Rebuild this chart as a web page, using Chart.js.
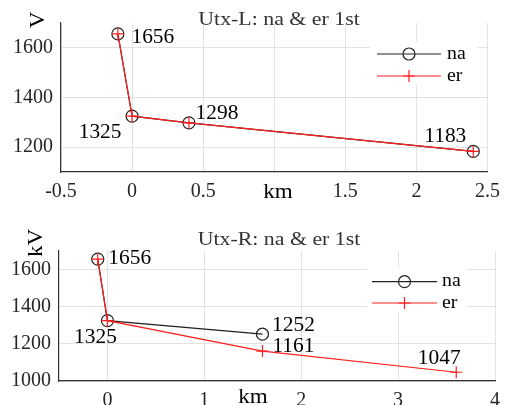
<!DOCTYPE html>
<html>
<head>
<meta charset="utf-8">
<script src="https://cdn.jsdelivr.net/npm/chart.js@4.4.1/dist/chart.umd.min.js"></script>
<style>
  html, body { margin: 0; padding: 0; background: #fff; }
  #wrap { position: relative; width: 508px; height: 405px; overflow: hidden; }
  #wrap canvas { position: absolute; left: 0; }
</style>
</head>
<body>
<div id="wrap">
  <canvas id="chartL" width="508" height="200" style="top:0;width:508px;height:200px"></canvas>
  <canvas id="chartR" width="508" height="205" style="top:200px;width:508px;height:205px"></canvas>
</div>
<script>
//--------------- data ---------------//
// Utx-L (top)
var distL = [-0.1, 0, 0.4, 2.4];
var naL = [1656, 1325, 1298, 1183];
var erL = [1656, 1325, 1298, 1183];
var xTicksL = [-0.5, 0, 0.5, 1, 1.5, 2, 2.5];
var yTicksL = [1200, 1400, 1600];

// Utx-R (bottom)
var distNaR = [-0.1, 0, 1.6];
var naR = [1656, 1325, 1252];
var distErR = [-0.1, 0, 1.6, 3.6];
var erR = [1656, 1325, 1161, 1047];
var xTicksR = [0, 1, 2, 3, 4];
var yTicksR = [1000, 1200, 1400, 1600];

var seriesNames = ['na', 'er'];

//--------------- helpers ---------------//
var serif = '"Liberation Serif", "Times New Roman", serif';
var naColor = '#222222';
var erColor = '#ff1f1f';
var gridColor = '#e2e2e2';
var axisColor = '#333333';

function pts(xs, ys) {
  return xs.map(function (x, i) { return { x: x, y: ys[i] }; });
}

function drawText(ctx, text, x, y, size, opt) {
  opt = opt || {};
  ctx.save();
  ctx.translate(x, y);
  if (opt.rotate) ctx.rotate(opt.rotate);
  ctx.scale(opt.sx || 1.1, 1);
  ctx.font = size + 'px ' + serif;
  ctx.fillStyle = opt.color || '#000';
  ctx.textAlign = opt.align || 'center';
  ctx.textBaseline = opt.baseline || 'middle';
  ctx.fillText(text, 0, 0);
  ctx.restore();
}

function drawCircle(ctx, x, y) {
  ctx.save();
  ctx.strokeStyle = naColor;
  ctx.lineWidth = 1.2;
  ctx.beginPath();
  ctx.arc(x, y, 6, 0, Math.PI * 2);
  ctx.stroke();
  ctx.restore();
}

function drawPlus(ctx, x, y) {
  ctx.save();
  ctx.strokeStyle = erColor;
  ctx.lineWidth = 1.2;
  ctx.beginPath();
  ctx.moveTo(x - 6, y); ctx.lineTo(x + 6, y);
  ctx.moveTo(x, y - 6); ctx.lineTo(x, y + 6);
  ctx.stroke();
  ctx.restore();
}

// titles, axis names, point labels and the legend box
var annotPlugin = {
  id: 'annot',
  afterDraw: function (chart, args, o) {
    var ctx = chart.ctx;
    drawText(ctx, o.title.text, o.title.x, o.title.y, 19, { color: '#333', baseline: 'alphabetic', sx: 1.15 });
    drawText(ctx, o.yName.text, o.yName.x, o.yName.y, 21, { rotate: -Math.PI / 2, sx: 1.1 });
    drawText(ctx, o.xName.text, o.xName.x, o.xName.y, 21, { baseline: 'alphabetic', sx: 1.1 });

    o.labels.forEach(function (l) {
      var p = chart.getDatasetMeta(l.ds).data[l.i];
      var v = chart.data.datasets[l.ds].data[l.i].y;
      drawText(ctx, String(v), p.x + l.dx, p.y + l.dy, 20, { sx: 1.07 });
    });

    var lg = o.legend;
    ctx.save();
    ctx.fillStyle = '#fff';
    ctx.fillRect(lg.x, lg.y, lg.w, lg.h);
    ctx.restore();
    seriesNames.forEach(function (name, k) {
      var ry = lg.rows[k];
      var mid = (lg.line[0] + lg.line[1]) / 2;
      ctx.save();
      ctx.strokeStyle = k === 0 ? naColor : erColor;
      ctx.lineWidth = 1.2;
      ctx.beginPath();
      ctx.moveTo(lg.line[0], ry);
      ctx.lineTo(lg.line[1], ry);
      ctx.stroke();
      ctx.restore();
      if (k === 0) drawCircle(ctx, mid, ry); else drawPlus(ctx, mid, ry);
      drawText(ctx, name, lg.textX, ry, 18, { align: 'left', sx: 1.1 });
    });
  }
};

function makeDatasets(naPts, erPts) {
  return [
    {
      label: seriesNames[0],
      data: naPts,
      borderColor: naColor,
      borderWidth: 1.2,
      pointStyle: 'circle',
      pointRadius: 6,
      pointBorderWidth: 1.2,
      pointBorderColor: naColor,
      pointBackgroundColor: 'rgba(0,0,0,0)',
      order: 1
    },
    {
      label: seriesNames[1],
      data: erPts,
      borderColor: erColor,
      borderWidth: 1.2,
      pointStyle: 'cross',
      pointRadius: 6,
      pointBorderWidth: 1.2,
      pointBorderColor: erColor,
      order: 0
    }
  ];
}

function makeScales(s) {
  return {
    x: {
      type: 'linear',
      min: s.xMin, max: s.xMax,
      afterBuildTicks: function (scale) { scale.ticks = s.xTicks.map(function (v) { return { value: v }; }); },
      afterFit: function (scale) { scale.height = s.xH; },
      ticks: {
        padding: 8,
        color: '#262626',
        font: { family: serif, size: 20 },
        maxRotation: 0,
        callback: s.xCallback || function (v) { return String(v); }
      },
      grid: { color: gridColor, drawTicks: false },
      border: { color: axisColor, width: 1.2 }
    },
    y: {
      min: s.yMin, max: s.yMax,
      afterBuildTicks: function (scale) { scale.ticks = s.yTicks.map(function (v) { return { value: v }; }); },
      afterFit: function (scale) { scale.width = s.yW; },
      ticks: {
        padding: 8,
        color: '#262626',
        font: { family: serif, size: 20 },
        callback: function (v) { return String(v); }
      },
      grid: { color: gridColor, drawTicks: false },
      border: { color: axisColor, width: 1.2 }
    }
  };
}

//--------------- top chart ---------------//
const chartL = new Chart(document.getElementById('chartL'), {
  type: 'line',
  data: { datasets: makeDatasets(pts(distL, naL), pts(distL, erL)) },
  plugins: [annotPlugin],
  options: {
    responsive: false,
    animation: false,
    layout: { padding: { top: 23, right: 13, left: 0, bottom: 0 } },
    scales: makeScales({
      xMin: -0.5, xMax: 2.5, xTicks: xTicksL, xH: 28,
      yMin: 1100, yMax: 1700, yTicks: yTicksL, yW: 61,
      xCallback: function (v) { return Math.abs(v - 1) < 1e-9 ? '' : String(v); }
    }),
    plugins: {
      legend: { display: false },
      tooltip: { enabled: false },
      annot: {
        title: { text: 'Utx-L: na & er 1st', x: 279, y: 25 },
        yName: { text: 'V', x: 38, y: 20 },
        xName: { text: 'km', x: 278, y: 198 },
        labels: [
          { ds: 1, i: 0, dx: 35, dy: 4 },
          { ds: 1, i: 1, dx: -32, dy: 17 },
          { ds: 1, i: 2, dx: 28, dy: -9 },
          { ds: 1, i: 3, dx: -28, dy: -15 }
        ],
        legend: { x: 370, y: 42, w: 107, h: 43, rows: [54, 76], line: [377, 441], textX: 447 }
      }
    }
  }
});

//--------------- bottom chart ---------------//
const chartR = new Chart(document.getElementById('chartR'), {
  type: 'line',
  data: { datasets: makeDatasets(pts(distNaR, naR), pts(distErR, erR)) },
  plugins: [annotPlugin],
  options: {
    responsive: false,
    animation: false,
    layout: { padding: { top: 51, right: 10, left: 0, bottom: 0 } },
    scales: makeScales({
      xMin: -0.5, xMax: 4, xTicks: xTicksR, xH: 24,
      yMin: 1000, yMax: 1700, yTicks: yTicksR, yW: 59
    }),
    plugins: {
      legend: { display: false },
      tooltip: { enabled: false },
      annot: {
        title: { text: 'Utx-R: na & er 1st', x: 279, y: 45 },
        yName: { text: 'kV', x: 36, y: 43 },
        xName: { text: 'km', x: 253, y: 203 },
        labels: [
          { ds: 1, i: 0, dx: 32, dy: 0 },
          { ds: 1, i: 1, dx: -12, dy: 17 },
          { ds: 0, i: 2, dx: 31, dy: -8 },
          { ds: 1, i: 2, dx: 31, dy: -4 },
          { ds: 1, i: 3, dx: -17, dy: -14 }
        ],
        legend: { x: 367, y: 68, w: 100, h: 44, rows: [81.7, 103], line: [372, 437], textX: 442 }
      }
    }
  }
});
</script>
</body>
</html>
